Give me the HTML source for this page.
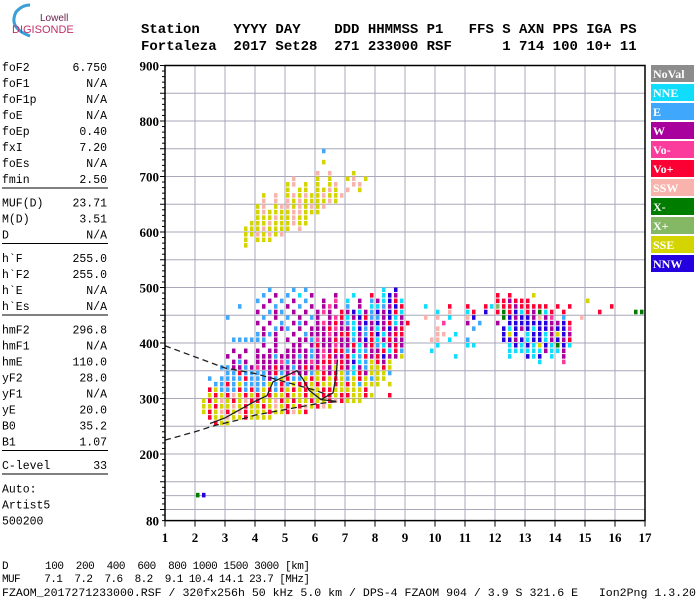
<!DOCTYPE html>
<html><head><meta charset="utf-8"><style>
html,body{margin:0;padding:0;background:#fff;}
svg{display:block;}
.mono{font-family:"Liberation Mono",monospace;}
.ser{font-family:"Liberation Serif",serif;font-weight:bold;}
</style></head><body>
<svg id="chart" width="700" height="600" viewBox="0 0 700 600" xmlns="http://www.w3.org/2000/svg">
<g>
<path d="M30 36 Q8 28 16 12 Q22 5 30 5" fill="none" stroke="#3aa0d8" stroke-width="3"/>
<text x="40" y="21" font-family="Liberation Sans,sans-serif" font-size="10" fill="#6a2050">Lowell</text>
<text x="12" y="33" font-family="Liberation Sans,sans-serif" font-size="11" fill="#c0306a">DIGISONDE</text>
</g>
<g class="mono" font-size="14" font-weight="bold" fill="#000">
<text x="141" y="33" xml:space="preserve">Station    YYYY DAY    DDD HHMMSS P1   FFS S AXN PPS IGA PS</text>
<text x="141" y="50" xml:space="preserve">Fortaleza  2017 Set28  271 233000 RSF      1 714 100 10+ 11</text>
</g>
<g id="side" class="mono" font-size="11.5" fill="#000"></g>
<g id="grid"></g>
<g id="marks"></g>
<g id="curves"></g>
<g id="axes"></g>
<g id="legend"></g>
<g class="mono" font-size="11" fill="#000">
<text x="2" y="569" xml:space="preserve" textLength="308">D      100  200  400  600  800 1000 1500 3000 [km]</text>
<text x="2" y="582" xml:space="preserve" textLength="308">MUF    7.1  7.2  7.6  8.2  9.1 10.4 14.1 23.7 [MHz]</text>
<text x="2" y="596" xml:space="preserve" textLength="694" lengthAdjust="spacingAndGlyphs">FZAOM_2017271233000.RSF / 320fx256h 50 kHz 5.0 km / DPS-4 FZAOM 904 / 3.9 S 321.6 E   Ion2Png 1.3.20</text>
</g>
</svg>
<script>
// ---- data ----
const xTicks=[1,2,3,4,5,6,7,8,9,10,11,12,13,14,15,16,17];
const yTickLabels=[900,800,700,600,500,400,300,200,80];
const legendNames=["NoVal","NNE","E","W","Vo-","Vo+","SSW","X-","X+","SSE","NNW"];
const legendColors=["#8c8c8c","#10dcfc","#40a8fc","#a8009c","#fc3c9c","#fc0034","#f8b4ac","#007c00","#84b864","#d4d400","#2400e0"];
const codeKeys="cewmrsgxyb";
const codeLegend=[1,2,3,4,5,6,7,8,9,10];
const gridF0=2.0, gridDf=0.2, gridDh=10;
const echoHeights=[740,720,700,690,680,670,660,650,640,630,620,610,600,590,580,570,
490,480,470,460,450,440,430,420,410,400,390,380,370,360,350,340,330,320,310,300,290,280,270,260,250,120];
const echoRows=[
"..... ..... ..... ..... .e... .....",
"..... ..... ..... ..... .y... .....",
"..... ..... ..... ..... s.s.. .y...",
"..... ..... ..... .s... y.y.. ys.y.",
"..... ..... ..... ys.y. y.ys. .ss..",
"..... ..... ..... y.yy. yysy. s.y..",
"..... ..... .y.s. ysysy ysyys .....",
"..... ..... .s.s. sysyy yysy. .....",
"..... ..... ys.ys sysys ys... .....",
"..... ..... ysyyy yssyy y.... .....",
"..... ..... yyysy ysyy. .....",
"..... ....y yysyy ysyy. .....",
"..... ...yy ysyyy y.s.. .....",
"..... ...yy sysys ..... .....",
"..... ...y. yyy.. .....",
"..... ...y. ..... .....",
"..... ..... ..e.. .e.e. ..... ..... .c.b. ..... ..... ..... ..... ..... ..... ..... .....",
"..... ..... .e.w. e.c.w ...w. .c..r .cbw. ..... ..... ..... r.r.. .y... ..... ..... .....",
"..... ..... e.w.e .w.e. .w.m. c.w.e wcbrc ..... ..... ..... rrwrr r.... ..... y.... .....",
"..... ..e.. .w.e. w.e.w .wmw. e.w.c cewbr ...c. ..r.. r..rc xrrwr rrrr. r.r.. ....r .....",
"..... ..... w.ewe .w.w. wmw.r wbcwe bwbrc ..... c.s.. cr.b. rgrbc rwgcr .r... ..r.. ...gg",
"..... e.... .e.w. e.w.e w.wmr cwbre ewbcw ...s. s.c.. sb... .gbwb bwswm .e..s ..... .....",
"..... ..... w.w.e .wew. wmwrw ecwbw bwrcw r.... .m... w.e.. w.bbb bbbbw wbr.. ..... .....",
"..... ..... .w.ew e.w.w wwrmw wcbew cwbwr ..... s.... .e... .bcbw bcbbw bbm.. ..... .....",
"..... ..... ewew. .w.ew wwmwr rcwer bcwrr ..... ss.c. ..... .byb. cbbcw ybw.. ..... .....",
"..... .eeee ee.w. w.wwe mwwrw wewbr cwrww ....s s.c.. e.... .bbwb cbbcw bwr.. ..... .....",
"..... ..... .w.w. .ww.w rwwmw wrcwr ecwrw ..... c.... cc... ..cbc bcybc gbc.. ..... .....",
"..... .w.w. w.ww. wwwwe wmwrr ewcew wrcre ....c ..... ..... ..ccc cccwc cw... ..... .....",
"..... w.w.. wwwew wwewe wmrww rcerw rbwwy ..... ...c. ..... ..c.. bcb.c .w... ..... .....",
"..... .wew. wwwwm ewwwm wrrmr wbcey rwy.. ..... ..... ..... ..... ..c.. .m... ..... .....",
"....e ewwew mwwrw wewrw rmwyr wcwey yry.. ..... .....",
"..... eeree eewre wmwwe yrwry ecrwy yye.. .....",
"..e.e eeere eewey reeyr yryry eyrye yy... .....",
"...ee reyee eeyer eyrry ryyry ryeyy y.y.. .....",
"..rye eerer eyrer yryry yrryy yyyr. .....",
"..yry rsyry ryryy ryyry yrryr ryyry ..r..",
".yrys yrysr ryysr yryyr yyrsr yyy.. .....",
".yyry ysyry yrysy ryrsy rsy.. .....",
".yrys rysry yyryy rsyr. .....",
"..ryy syyry yyy.. .....",
"...ry y.... .....",
"gb..."
];
const lowerF=[1,2,2.7,3.5,4,5,6,6.5,6.8];
const lowerH=[225,240,252,262,270,280,290,293,295];
const upperF=[1,2,3,4,5,6,6.5];
const upperH=[395,375,355,345,330,315,305];
const traceF=[2.5,3,3.5,4,4.4,4.6,5,5.4,5.6,5.8,6.2,6.7];
const traceH=[255,265,280,295,305,330,340,350,335,315,298,295];
const trace2F=[6.2,6.6,6.7,6.75];
const trace2H=[298,310,340,370];
const sideLabels=["foF2","foF1","foF1p","foE","foEp","fxI","foEs","fmin","-","MUF(D)","M(D)","D","-","h`F","h`F2","h`E","h`Es","-","hmF2","hmF1","hmE","yF2","yF1","yE","B0","B1","-","C-level","-","Auto:","Artist5","500200"];
const sideValues=["6.750","N/A","N/A","N/A","0.40","7.20","N/A","2.50","","23.71","3.51","N/A","","255.0","255.0","N/A","N/A","","296.8","N/A","110.0","28.0","N/A","20.0","35.2","1.07","","33","","","",""];

// ---- helpers ----
const NS="http://www.w3.org/2000/svg";
const X0=165,X1=645,Y0=65.5,Y1=520.6;
function xs(f){return X0+(f-1)*(X1-X0)/16;}
function ys(h){return Y0+(900-h)*(Y1-Y0)/820;}
function mk(tag,parent,attrs){const e=document.createElementNS(NS,tag);for(const k in attrs)e.setAttribute(k,attrs[k]);parent.appendChild(e);return e;}

// side panel
const side=document.getElementById('side');
let sy=71;
sideLabels.forEach((l,i)=>{
  if(l==="-"){
    const ln=mk('line',side,{x1:2,x2:108,y1:sy-11,y2:sy-11,stroke:'#000','stroke-width':1});
    
    
    sy+=7.5;return;
  }
  const t=mk('text',side,{x:2,y:sy});t.textContent=l;
  
  
  if(sideValues[i]){const v=mk('text',side,{x:107,y:sy,'text-anchor':'end'});v.textContent=sideValues[i];
    
    }
  sy+=16;
});

// grid
const grid=document.getElementById('grid');
for(let f=2;f<=16;f++){const l=mk('line',grid,{x1:xs(f),x2:xs(f),y1:Y0,y2:Y1,stroke:'#a8a8b8','stroke-width':1});
  }
for(let h=100;h<900;h+=(h<150?25:50)){const l=mk('line',grid,{x1:X0,x2:X1,y1:ys(h),y2:ys(h),stroke:'#a8a8b8','stroke-width':1});
  }

// echoes
const marks=document.getElementById('marks');
const cw=(X1-X0)/16*gridDf, ch=(Y1-Y0)/820*gridDh;
echoRows.forEach((row,ri)=>{
  const s=row.replace(/ /g,'');const h=echoHeights[ri];
  for(let i=0;i<s.length;i++){const c=s[i];const k=codeKeys.indexOf(c);if(k<0)continue;
    const f=gridF0+i*gridDf;
    const r=mk('rect',marks,{x:xs(f)+1,y:ys(h+gridDh),width:cw-2.5,height:ch-1,fill:legendColors[codeLegend[k]]});
    
    
  }
});

// curves
const curves=document.getElementById('curves');
function poly(F,H,dash,name){const p=mk('polyline',curves,{points:F.map((f,i)=>xs(f)+','+ys(H[i])).join(' '),fill:'none',stroke:'#202020','stroke-width':1.3});
  if(dash)p.setAttribute('stroke-dasharray','6,4');
  }
poly(lowerF,lowerH,true,'lower-model-curve');
poly(upperF,upperH,true,'upper-model-curve');
poly(traceF,traceH,false,'o-trace-curve');
poly(trace2F,trace2H,false,'x-trace-curve');

// axes
const ax=document.getElementById('axes');
const fr=mk('rect',ax,{x:X0,y:Y0,width:X1-X0,height:Y1-Y0,fill:'none',stroke:'#000','stroke-width':1.5});

for(let h=80;h<=900;h+=10){const big=(h%50===0);const t=mk('line',ax,{x1:X0-(big?5:3),x2:X0,y1:ys(h),y2:ys(h),stroke:'#000','stroke-width':1});
  }
yTickLabels.forEach(h=>{const t=mk('text',ax,{x:X0-6,y:ys(h)+5,'text-anchor':'end','font-size':13,class:'ser'});t.textContent=h;
  });
xTicks.forEach(f=>{const l=mk('line',ax,{x1:xs(f),x2:xs(f),y1:Y1,y2:Y1+6,stroke:'#000','stroke-width':1});
  
  const t=mk('text',ax,{x:xs(f),y:542,'text-anchor':'middle','font-size':13,class:'ser'});t.textContent=f;
  });

// legend
const lg=document.getElementById('legend');
legendNames.forEach((n,i)=>{
  const y=65+i*19;
  const r=mk('rect',lg,{x:651,y:y,width:43,height:17,fill:legendColors[i]});
  
  const t=mk('text',lg,{x:653,y:y+13,'font-size':12,fill:'#fff',class:'ser'});t.textContent=n;
  
});
</script>
</body></html>
